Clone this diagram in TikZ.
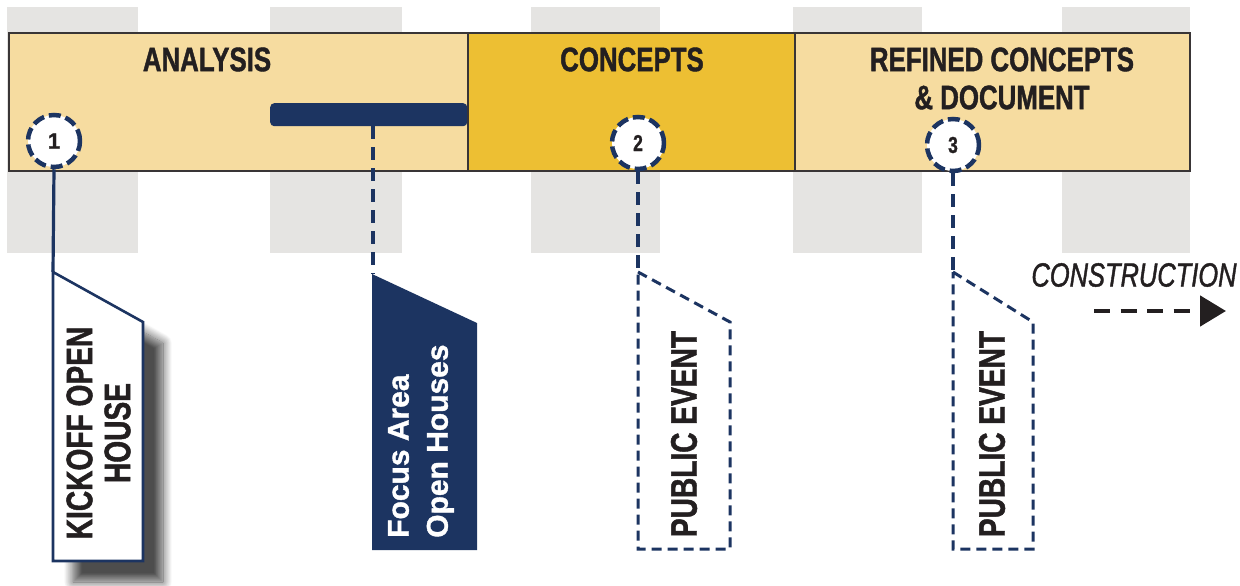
\documentclass[tikz,border=0pt]{standalone}
\usepackage{fontspec}
\setmainfont{Liberation Sans}
\newfontfamily\condf[FakeStretch=0.76,FakeBold=1.2]{Liberation Sans}
\newfontfamily\heavyf[FakeBold=1.2]{Liberation Sans}
\usetikzlibrary{shadows.blur,arrows.meta}
\definecolor{navy}{HTML}{1C3461}
\definecolor{beige}{HTML}{F6DCA0}
\definecolor{gold}{HTML}{EDBF33}
\definecolor{colgray}{HTML}{E5E4E2}
\definecolor{ink}{HTML}{231F20}
\tikzset{
  seg/.style={draw=ink!90, line width=1.6pt, rectangle, inner sep=0pt, outer sep=0pt, anchor=north west, minimum height=138pt},
  phase/.style={font=\condf\bfseries\fontsize{34}{38}\selectfont, text=ink, inner sep=0pt, align=center},
  numcirc/.style={circle, draw=navy, fill=white, line width=4.5pt, dash pattern=on 12pt off 5pt, minimum size=52pt, inner sep=0pt, text=ink},
  solidconn/.style={draw=navy, line width=3.2pt},
  dashconn/.style={draw=navy, line width=3.4pt, dash pattern=on 13pt off 8pt},
  flagsolid/.style={draw=navy, line width=2.6pt, fill=white, line join=miter},
  flagdash/.style={draw=navy, line width=3pt, dash pattern=on 10pt off 6pt, line join=miter},
  vlabel/.style={rotate=90, inner sep=0pt, text=ink, font=\condf\bfseries\fontsize{37}{38}\selectfont, align=center}
}
\begin{document}
\begin{tikzpicture}[x=1pt,y=-1pt]
\useasboundingbox (0,0) rectangle (1240,586);
% gray columns
\foreach \a/\b in {7/138,270/402,531/660,793/922,1062/1190}
  \fill[colgray] (\a,7) rectangle (\b,253);
% phase bar
\node[seg, fill=beige, minimum width=459pt] (ana) at (9,33) {};
\node[seg, fill=gold, minimum width=327pt] (con) at (468,33) {};
\node[seg, fill=beige, minimum width=395pt] (ref) at (795,33) {};
\node[phase] (tana) at (207,59.5) {ANALYSIS};
\node[phase] (tcon) at (632,59.5) {CONCEPTS};
\node[phase] (tref) at (1002,78.5) {REFINED CONCEPTS\\\& DOCUMENT};
% focus bar
\node[fill=navy, rounded corners=4pt, minimum width=197pt, minimum height=23pt, inner sep=0pt, anchor=north west] (fbar) at (270,103) {};
% circles
\node[numcirc, font=\heavyf\bfseries\fontsize{22}{22}\selectfont] (c1) at (54,141) {1};
\node[numcirc, font=\condf\bfseries\fontsize{23}{23}\selectfont] (c2) at (638,143) {2};
\node[numcirc, font=\condf\bfseries\fontsize{23}{23}\selectfont] (c3) at (953,145) {3};
% flag anchors
\coordinate (f1) at (53,272);
\coordinate (f2) at (373,274);
\coordinate (f3) at (638,272);
\coordinate (f4) at (953,272);
% flag 1
\draw[flagsolid, blur shadow={shadow xshift=20pt, shadow yshift=-21pt, shadow blur radius=9pt, shadow opacity=70, shadow blur steps=14}]
  (f1) -- (143,322) -- (143,561) -- (53,561) -- cycle;
\node[vlabel] (t1) at (98.5,433) {KICKOFF OPEN\\HOUSE};
% flag 2
\fill[navy] (372,274) -- (477,323) -- (477,550) -- (372,550) -- cycle;
\node[rotate=90, inner sep=0pt, anchor=west, text=white, align=left, font=\heavyf\bfseries\fontsize{30}{39}\selectfont] (t2) at (421,538) {Focus Area\\Open Houses};
% flag 3
\draw[flagdash] (f3) -- (730,322) -- (730,549) -- (638,549) -- cycle;
\node[vlabel] (t3) at (684,434) {PUBLIC EVENT};
% flag 4
\draw[flagdash] (f4) -- (1033,322) -- (1033,549) -- (953,549) -- cycle;
\node[vlabel] (t4) at (992,434) {PUBLIC EVENT};
% connectors
\draw[solidconn] (c1.south) -- (f1);
\draw[dashconn] (f2 |- fbar.south) -- (f2);
\draw[dashconn] (c2.south) -- (f3);
\draw[dashconn] (c3.south) -- (f4);
% construction
\node[font=\condf\itshape\fontsize{33.5}{33.5}\selectfont, text=ink, inner sep=0pt] (cons) at (1134,275) {CONSTRUCTION};
\coordinate (a0) at (1094,311);
\coordinate (a1) at (1226,311);
\draw[ink, line width=4.8pt, dash pattern=on 16pt off 10.5pt, -{Triangle[length=26pt,width=30pt]}] (a0) -- (a1);
\end{tikzpicture}
\end{document}
